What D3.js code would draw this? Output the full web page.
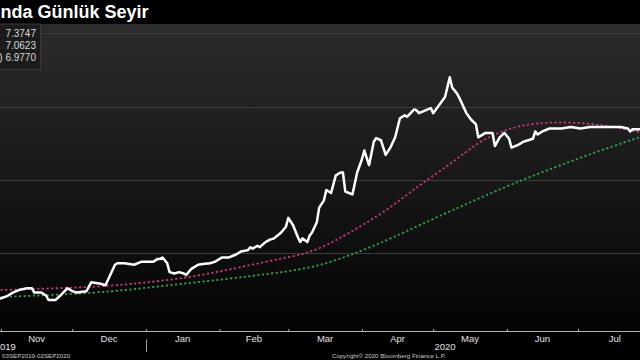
<!DOCTYPE html>
<html><head><meta charset="utf-8">
<script src="https://cdn.jsdelivr.net/npm/d3@7"></script>
<style>html,body{margin:0;padding:0;background:#000;overflow:hidden}svg{display:block}</style>
</head><body>
<svg id="c" width="640" height="360"></svg>
<script>
// ---- data ----
const titleText = "nda Günlük Seyir";
const legendLines = ["7.3747", "7.0623", ") 6.9770"];
const monthLabels = ["Nov","Dec","Jan","Feb","Mar","Apr","May","Jun","Jul"];
const monthStarts = ["2019-11-01","2019-12-01","2020-01-01","2020-02-01","2020-03-01","2020-04-01","2020-05-01","2020-06-01","2020-07-01","2020-08-01"];
const yearLabels = ["019","2020"];
const gridValues = [6.0, 6.5, 7.0, 7.5];
const footLeft = "03SEP2019-02SEP2020";
const footRight = "Copyright© 2020 Bloomberg Finance L.P.";

const priceDates = ["2019-10-29","2019-11-01","2019-11-04","2019-11-06","2019-11-09","2019-11-12","2019-11-14","2019-11-15","2019-11-18","2019-11-20","2019-11-21","2019-11-24","2019-11-26","2019-11-29","2019-12-01","2019-12-03","2019-12-07","2019-12-09","2019-12-13","2019-12-15","2019-12-19","2019-12-20","2019-12-23","2019-12-25","2019-12-27","2019-12-30","2020-01-02","2020-01-04","2020-01-06","2020-01-07","2020-01-08","2020-01-10","2020-01-11","2020-01-13","2020-01-15","2020-01-17","2020-01-18","2020-01-20","2020-01-23","2020-01-25","2020-01-28","2020-01-30","2020-02-02","2020-02-05","2020-02-08","2020-02-10","2020-02-13","2020-02-14","2020-02-15","2020-02-17","2020-02-18","2020-02-20","2020-02-22","2020-02-24","2020-02-27","2020-02-29","2020-03-01","2020-03-03","2020-03-05","2020-03-06","2020-03-07","2020-03-09","2020-03-10","2020-03-11","2020-03-13","2020-03-14","2020-03-16","2020-03-17","2020-03-19","2020-03-21","2020-03-23","2020-03-24","2020-03-25","2020-03-28","2020-03-30","2020-04-01","2020-04-02","2020-04-04","2020-04-06","2020-04-07","2020-04-09","2020-04-11","2020-04-13","2020-04-15","2020-04-17","2020-04-19","2020-04-20","2020-04-23","2020-04-24","2020-04-25","2020-04-28","2020-04-30","2020-05-01","2020-05-04","2020-05-06","2020-05-08","2020-05-09","2020-05-11","2020-05-12","2020-05-15","2020-05-17","2020-05-19","2020-05-20","2020-05-23","2020-05-26","2020-05-27","2020-05-29","2020-05-31","2020-06-02","2020-06-03","2020-06-06","2020-06-08","2020-06-10","2020-06-12","2020-06-13","2020-06-14","2020-06-16","2020-06-19","2020-06-24","2020-06-28","2020-07-02","2020-07-06","2020-07-10","2020-07-15","2020-07-19","2020-07-22","2020-07-23","2020-07-24","2020-07-27","2020-07-30"];
const priceValues = [5.69,5.69,5.71,5.73,5.75,5.76,5.76,5.73,5.73,5.71,5.68,5.68,5.71,5.76,5.74,5.73,5.74,5.80,5.79,5.78,5.92,5.93,5.93,5.925,5.92,5.94,5.94,5.94,5.96,5.96,5.97,5.93,5.87,5.86,5.87,5.86,5.85,5.89,5.92,5.925,5.93,5.94,5.97,5.97,5.99,6.01,6.02,6.04,6.03,6.05,6.04,6.07,6.09,6.10,6.14,6.18,6.24,6.19,6.11,6.075,6.10,6.075,6.12,6.14,6.21,6.31,6.36,6.43,6.41,6.53,6.55,6.55,6.42,6.40,6.55,6.64,6.70,6.60,6.76,6.785,6.77,6.67,6.72,6.79,6.92,6.94,6.93,6.98,6.975,6.955,6.975,6.99,6.955,7.02,7.065,7.20,7.13,7.09,7.06,6.955,6.91,6.88,6.79,6.82,6.82,6.73,6.79,6.82,6.78,6.72,6.74,6.76,6.77,6.78,6.83,6.81,6.83,6.85,6.85,6.86,6.85,6.86,6.86,6.86,6.86,6.85,6.83,6.845,6.845,6.85];

const sma50Dates = ["2019-10-28","2019-11-01","2019-12-13","2020-01-03","2020-01-17","2020-01-31","2020-02-14","2020-02-28","2020-03-07","2020-03-14","2020-03-22","2020-03-28","2020-04-12","2020-04-25","2020-05-09","2020-05-20","2020-05-29","2020-06-07","2020-06-20","2020-07-05","2020-07-16","2020-07-27","2020-07-31"];
const sma50Values = [5.745,5.748,5.768,5.802,5.829,5.870,5.918,5.966,5.990,6.030,6.095,6.150,6.294,6.464,6.614,6.758,6.826,6.874,6.895,6.888,6.860,6.826,6.810];

const sma100Dates = ["2019-10-28","2019-11-01","2019-12-13","2020-01-03","2020-01-24","2020-02-14","2020-02-29","2020-03-14","2020-03-28","2020-04-12","2020-05-09","2020-06-07","2020-07-05","2020-07-27","2020-07-31"];
const sma100Values = [5.698,5.700,5.727,5.768,5.802,5.843,5.872,5.912,5.990,6.089,6.294,6.499,6.670,6.792,6.81];

// ---- drawing ----
const W = 640, H = 360;
const parse = d3.timeParse("%Y-%m-%d");
const svg = d3.select("#c");
const plotTop = 24, axisY = 331.5;
const FONT = "Liberation Sans, Arial, sans-serif";

const x = d3.scaleTime().domain([parse("2019-11-01"), parse("2020-07-01")]).range([1, 578]);
const y = d3.scaleLinear().domain([5.5, 7.5]).range([326.3, 33.3]);

const defs = svg.append("defs");
const grad = defs.append("linearGradient").attr("id","bg").attr("x1",0).attr("y1",0).attr("x2",0).attr("y2",1);
grad.append("stop").attr("offset","0%").attr("stop-color","#2c2c2c");
grad.append("stop").attr("offset","55%").attr("stop-color","#161616");
grad.append("stop").attr("offset","100%").attr("stop-color","#030303");
defs.append("clipPath").attr("id","plotclip").append("rect").attr("x",0).attr("y",plotTop).attr("width",W).attr("height",axisY-plotTop);

svg.append("rect").attr("width",W).attr("height",H).attr("fill","#000");
svg.append("rect").attr("x",0).attr("y",plotTop).attr("width",W).attr("height",axisY-plotTop).attr("fill","url(#bg)");

// gridlines
svg.append("g").selectAll("line").data(gridValues).join("line")
  .attr("x1",0).attr("x2",W).attr("y1",d=>Math.round(y(d))+0.5).attr("y2",d=>Math.round(y(d))+0.5)
  .attr("stroke","#3d3d3d").attr("stroke-width",1);

const plot = svg.append("g").attr("clip-path","url(#plotclip)");
const mk = (dates, vals) => dates.map((d,i)=>({date:parse(d), v:vals[i]}));

const smooth = d3.line().x(d=>x(d.date)).y(d=>y(d.v)).curve(d3.curveBasis);
plot.append("path").datum(mk(sma100Dates, sma100Values)).attr("d",smooth)
  .attr("fill","none").attr("stroke","#2fa152").attr("stroke-width",1.8).attr("stroke-dasharray","2.2,2.4");
plot.append("path").datum(mk(sma50Dates, sma50Values)).attr("d",smooth)
  .attr("fill","none").attr("stroke","#c8387a").attr("stroke-width",1.8).attr("stroke-dasharray","2.2,2.4");

const line = d3.line().x(d=>x(d.date)).y(d=>y(d.v));
plot.append("path").datum(mk(priceDates, priceValues)).attr("d",line)
  .attr("fill","none").attr("stroke","#ffffff").attr("stroke-width",2.5)
  .attr("stroke-linejoin","round").attr("stroke-linecap","round");

// legend box
svg.append("rect").attr("x",-1).attr("y",plotTop).attr("width",41.5).attr("height",45)
  .attr("fill","#1b1b1b").attr("stroke","#3a3a3a").attr("stroke-width",1);
svg.append("g").selectAll("text").data(legendLines).join("text")
  .attr("x",36).attr("y",(d,i)=>36.5+i*12.2).attr("text-anchor","end")
  .attr("font-family",FONT).attr("font-size",10)
  .attr("fill","#d8d8d8").text(d=>d);

// title
svg.append("text").attr("x",0.5).attr("y",17.5)
  .attr("font-family",FONT).attr("font-weight","bold")
  .attr("font-size",18).attr("fill","#ffffff").text(titleText);

// x axis
const starts = monthStarts.map(parse);
svg.append("line").attr("x1",0).attr("x2",W).attr("y1",axisY).attr("y2",axisY)
  .attr("stroke","#b0b0b0").attr("stroke-width",1);
const axisG = svg.append("g").attr("transform",`translate(0,${axisY})`)
  .call(d3.axisBottom(x).tickValues(starts).tickSize(-2.5).tickFormat(""));
axisG.select(".domain").remove();
axisG.selectAll(".tick line").attr("stroke","#b0b0b0");

svg.append("g").selectAll("text").data(monthLabels).join("text")
  .attr("x",(d,i)=>(x(starts[i])+x(starts[i+1]))/2).attr("y",341.5)
  .attr("text-anchor","middle").attr("font-family",FONT)
  .attr("font-size",9.5).attr("fill","#e0e0e0").text(d=>d);

// year divider
const jan1 = parse("2020-01-01");
svg.append("line").attr("x1",Math.round(x(jan1))+0.5).attr("x2",Math.round(x(jan1))+0.5)
  .attr("y1",axisY+8).attr("y2",352).attr("stroke","#9a9a9a").attr("stroke-width",1);

svg.append("text").attr("x",0).attr("y",349.5).attr("font-family",FONT)
  .attr("font-size",9.5).attr("fill","#e0e0e0").text(yearLabels[0]);
svg.append("text").attr("x",(x(jan1)+x(parse("2020-09-09")))/2).attr("y",349.5).attr("text-anchor","middle")
  .attr("font-family",FONT).attr("font-size",9.5).attr("fill","#e0e0e0").text(yearLabels[1]);

// footers
svg.append("text").attr("x",2).attr("y",357.5).attr("font-family",FONT)
  .attr("font-size",6.2).attr("fill","#c8c8c8").text(footLeft);
svg.append("text").attr("x",332).attr("y",357.5).attr("font-family",FONT)
  .attr("font-size",6.2).attr("fill","#c8c8c8").text(footRight);
</script>
</body></html>
